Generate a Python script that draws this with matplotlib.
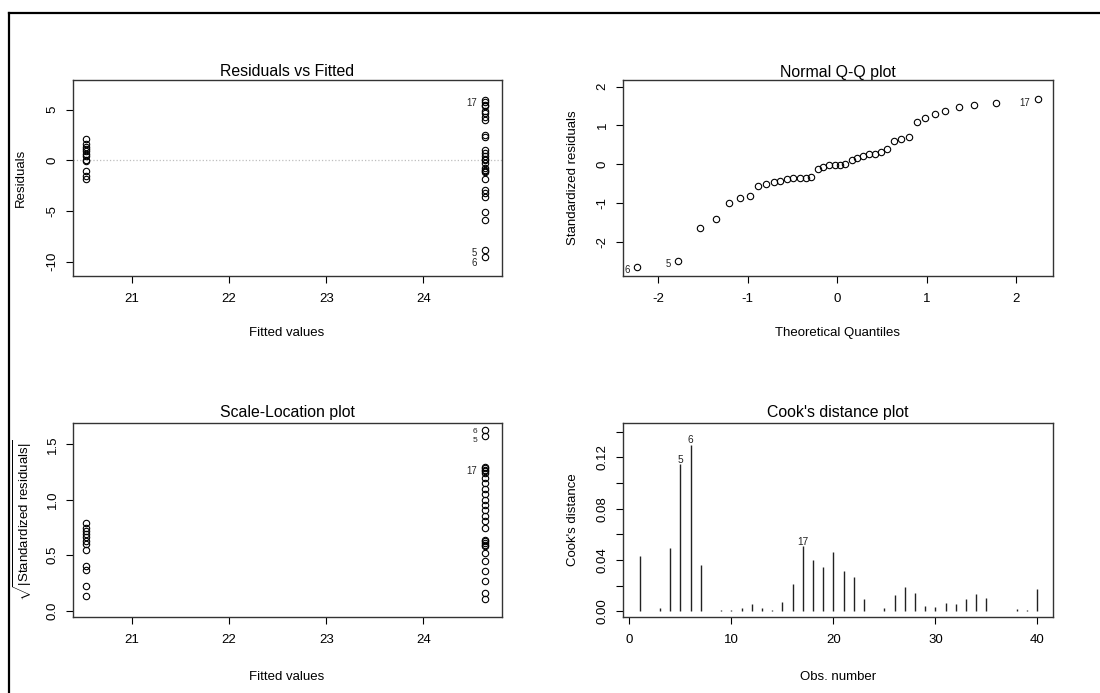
import matplotlib
matplotlib.use("Agg")
import matplotlib.pyplot as plt
import numpy as np
from matplotlib.lines import Line2D
from matplotlib.transforms import offset_copy

plt.rcParams['font.family'] = ['Liberation Sans', 'DejaVu Sans']
plt.rcParams['mathtext.fontset'] = 'custom'
plt.rcParams['mathtext.rm'] = 'Liberation Sans'
plt.rcParams['mathtext.it'] = 'Liberation Sans:italic'
plt.rcParams['mathtext.bf'] = 'Liberation Sans:bold'

# ---------------- data ----------------
fitted_low = 20.53
fitted_high = 24.63

resid_low = [2.1, 1.6, 1.3, 1.1, 0.9, 0.6, 0.4, 0.05, -0.05, -1.1, -1.5, -1.8]
resid_high = [6.0, 5.75, 5.5, 5.35, 4.9, 4.7, 4.3, 3.95, 2.5, 2.3, 1.0, 0.7,
              0.4, 0.1, 0.0, -0.3, -0.8, -1.0, -1.1, -1.2, -1.85, -2.95, -3.2,
              -3.6, -5.1, -5.9, -8.9, -9.6]
resid_labels = {"17": 6.0, "5": -8.9, "6": -9.6}

qq_theoretical = [-2.24, -1.78, -1.53, -1.36, -1.21, -1.09, -0.98, -0.89, -0.80,
                  -0.71, -0.64, -0.56, -0.49, -0.42, -0.35, -0.29, -0.22, -0.16,
                  -0.09, -0.03, 0.03, 0.09, 0.16, 0.22, 0.29, 0.35, 0.42, 0.49,
                  0.56, 0.64, 0.71, 0.80, 0.89, 0.98, 1.09, 1.21, 1.36, 1.53,
                  1.78, 2.24]
qq_std_resid = [-2.65, -2.49, -1.63, -1.41, -1.00, -0.88, -0.82, -0.55, -0.52,
                -0.46, -0.44, -0.39, -0.36, -0.36, -0.36, -0.33, -0.13, -0.06,
                -0.03, -0.01, -0.01, 0.01, 0.11, 0.15, 0.20, 0.27, 0.27, 0.31,
                0.39, 0.61, 0.64, 0.70, 1.09, 1.19, 1.30, 1.36, 1.48, 1.53,
                1.59, 1.67]
qq_labels = {"6": 0, "5": 1, "17": 39}   # index into sorted arrays

sl_low = [0.79, 0.75, 0.72, 0.69, 0.66, 0.63, 0.60, 0.55, 0.40, 0.37, 0.22, 0.13]
sl_high = [1.63, 1.575, 1.30, 1.285, 1.27, 1.255, 1.24, 1.195, 1.15, 1.10, 1.054,
           1.0, 0.95, 0.91, 0.85, 0.805, 0.75, 0.64, 0.625, 0.61, 0.595, 0.58,
           0.52, 0.444, 0.354, 0.27, 0.16, 0.105]
sl_labels = {"6": 1.63, "5": 1.575, "17": 1.29}

obs_number = list(range(1, 41))
cooks_d = [0.0434, 0.0, 0.0023, 0.0494, 0.115, 0.130, 0.0364, 0.0, 0.0013, 0.0008,
           0.0023, 0.0059, 0.0023, 0.0008, 0.0072, 0.0217, 0.0509, 0.0400, 0.0344,
           0.0465, 0.0315, 0.0266, 0.0093, 0.0, 0.0023, 0.0127, 0.0186, 0.0142,
           0.0041, 0.0031, 0.0067, 0.0059, 0.0093, 0.0134, 0.0101, 0.0, 0.0,
           0.0016, 0.0008, 0.0177]
cook_labels = [5, 6, 17]

fitted_ticks = [21, 22, 23, 24]
resid_ticks = [-10, -5, 0, 5]
qq_xticks = [-2, -1, 0, 1, 2]
qq_yticks = [-2, -1, 0, 1, 2]
sl_yticks = [0.0, 0.5, 1.0, 1.5]
sl_yticklabels = ["0.0", "0.5", "1.0", "1.5"]
cook_xticks = [0, 10, 20, 30, 40]
cook_yticks = [0.0, 0.02, 0.04, 0.06, 0.08, 0.10, 0.12, 0.14]
cook_yticklabels = ["0.00", "", "0.04", "", "0.08", "", "0.12", ""]

# ---------------- figure ----------------
W, H = 1100, 693
fig = plt.figure(figsize=(11, 6.93), dpi=100)

BASE = 9.5
TITLE = 11.4
SMALL = 6.9

# small vertical nudges (points) so stacked labels stay legible
nudge = {"5": 0.6, "6": -1.6, "17": 0.0}


def add_ax(l, t, r, b):
    return fig.add_axes([l / W, 1 - b / H, (r - l) / W, (b - t) / H])


def ftext(x, y, s, **kw):
    fig.text(x / W, 1 - y / H, s, ha='center', va='center', **kw)


def style(ax, xticks, yticks, ylabels=None):
    for s in ax.spines.values():
        s.set_color('#333333')
        s.set_linewidth(1.0)
    ax.set_xticks(xticks)
    ax.set_xticklabels([str(t) for t in xticks])
    if ylabels is None:
        ylabels = [str(t) for t in yticks]
    ax.set_yticks(yticks)
    ax.set_yticklabels(ylabels, rotation=90, va='center')
    ax.tick_params(axis='both', direction='out', length=5, width=0.8,
                   colors='black', labelsize=BASE)
    ax.tick_params(axis='x', pad=7.5)
    ax.tick_params(axis='y', pad=5)


def circles(ax, x, y):
    ax.plot(x, y, 'o', mfc='none', mec='black', ms=4.6, mew=0.8, clip_on=False)


def pt_label(ax, x, y, s, stacked=False):
    dy = -2.3 + (nudge.get(s, 0.0) if stacked else 0.0)
    tr = offset_copy(ax.transData, fig=fig, x=-5.2, y=dy, units='points')
    ax.text(x, y, s, transform=tr, ha='right', va='center', fontsize=SMALL,
            color='#222222')


# ---- Residuals vs Fitted ----
ax1 = add_ax(72.7, 80, 502, 275.7)
ax1.axhline(0, color='#BEBEBE', ls=':', lw=0.9)
circles(ax1, [fitted_low] * len(resid_low), resid_low)
circles(ax1, [fitted_high] * len(resid_high), resid_high)
for s, v in resid_labels.items():
    pt_label(ax1, fitted_high, v, s, stacked=True)
ax1.set_xlim(20.39, 24.81)
ax1.set_ylim(-11.4, 7.94)
style(ax1, fitted_ticks, resid_ticks)
ftext(287, 72, "Residuals vs Fitted", fontsize=TITLE)
ftext(287, 333, "Fitted values", fontsize=BASE)
ftext(20.7, 178, "Residuals", fontsize=BASE, rotation=90)

# ---- Normal Q-Q ----
ax2 = add_ax(622.7, 80, 1052.7, 275.7)
circles(ax2, qq_theoretical, qq_std_resid)
for s, i in qq_labels.items():
    pt_label(ax2, qq_theoretical[i], qq_std_resid[i], s)
ax2.set_xlim(-2.40, 2.41)
ax2.set_ylim(-2.87, 2.17)
style(ax2, qq_xticks, qq_yticks)
ftext(837.7, 72, "Normal Q-Q plot", fontsize=TITLE)
ftext(837.7, 333, "Theoretical Quantiles", fontsize=BASE)
ftext(572.7, 178, "Standardized residuals", fontsize=BASE, rotation=90)

# ---- Scale-Location ----
ax3 = add_ax(72.7, 422.7, 502, 617)
circles(ax3, [fitted_low] * len(sl_low), sl_low)
circles(ax3, [fitted_high] * len(sl_high), sl_high)
sl_nudge = {"6": 1.2, "5": -1.0, "17": 0.0}
for s, v in sl_labels.items():
    tr = offset_copy(ax3.transData, fig=fig, x=-5.2, y=-2.3 + sl_nudge[s],
                     units='points')
    ax3.text(fitted_high, v, s, transform=tr, ha='right', va='center',
             fontsize=SMALL if s == "17" else SMALL - 0.9, color='#222222')
ax3.set_xlim(20.39, 24.81)
ax3.set_ylim(-0.057, 1.695)
style(ax3, fitted_ticks, sl_yticks, sl_yticklabels)
ftext(287, 413, "Scale-Location plot", fontsize=TITLE)
ftext(287, 677, "Fitted values", fontsize=BASE)
ftext(22.7, 520, r"$\sqrt{|\mathrm{Standardized\ residuals}|}$", fontsize=BASE,
      rotation=90)

# ---- Cook's distance ----
ax4 = add_ax(622.7, 422.7, 1052.7, 617)
ax4.vlines(obs_number, 0, cooks_d, color='#222222', lw=1.0)
for o in cook_labels:
    tr = offset_copy(ax4.transData, fig=fig, x=0, y=3.0, units='points')
    ax4.text(o, cooks_d[o - 1], str(o), transform=tr, ha='center', va='center',
             fontsize=SMALL + 0.4, color='#222222')
ax4.set_xlim(-0.65, 41.5)
ax4.set_ylim(-0.0044, 0.147)
style(ax4, cook_xticks, cook_yticks, cook_yticklabels)
ftext(837.7, 413, "Cook's distance plot", fontsize=TITLE)
ftext(837.7, 677, "Obs. number", fontsize=BASE)
ftext(572.7, 520, "Cook's distance", fontsize=BASE, rotation=90)

# ---- outer frame (cropped screenshot border) ----
fig.add_artist(Line2D([9 / W, 1.0], [1 - 13.3 / H, 1 - 13.3 / H],
                      transform=fig.transFigure, color='black', lw=1.6))
fig.add_artist(Line2D([9 / W, 9 / W], [0.0, 1 - 13.3 / H],
                      transform=fig.transFigure, color='black', lw=1.6))

fig.savefig("out.png", dpi=100)
